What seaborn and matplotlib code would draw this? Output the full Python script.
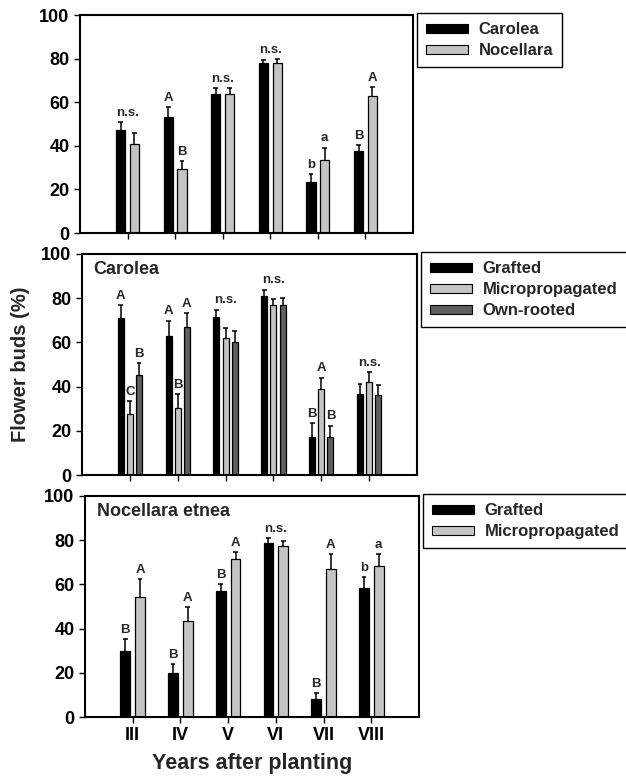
import matplotlib
matplotlib.use('Agg')
import matplotlib.pyplot as plt
import seaborn as sns
import pandas as pd
import numpy as np

# ---- data ----
years = ['III', 'IV', 'V', 'VI', 'VII', 'VIII']

# panel 1: cultivars
p1_groups = ['Carolea', 'Nocellara']
p1_carolea = [47.3, 53.4, 63.7, 77.9, 23.5, 37.7]
p1_carolea_se = [3.4, 4.2, 2.6, 1.5, 3.5, 2.5]
p1_nocellara = [40.9, 29.2, 63.8, 77.9, 33.4, 62.9]
p1_nocellara_se = [5.2, 3.9, 2.5, 1.8, 5.7, 4.0]
p1_carolea_lbl = ['', 'A', '', '', 'b', 'B']
p1_nocellara_lbl = ['', 'B', '', '', 'a', 'A']
p1_group_lbl = ['n.s.', '', 'n.s.', 'n.s.', '', '']

# panel 2: Carolea propagation
p2_groups = ['Grafted', 'Micropropagated', 'Own-rooted']
p2_grafted = [71.1, 62.9, 71.5, 81.1, 17.3, 36.7]
p2_grafted_se = [5.9, 6.9, 3.3, 2.7, 6.2, 4.5]
p2_micro = [27.7, 30.3, 61.8, 76.8, 38.8, 42.1]
p2_micro_se = [5.8, 6.2, 4.9, 2.7, 5.2, 4.5]
p2_own = [45.2, 67.1, 60.0, 77.1, 17.0, 36.0]
p2_own_se = [5.4, 6.1, 5.0, 2.9, 5.3, 4.6]
p2_grafted_lbl = ['A', 'A', '', '', 'B', '']
p2_micro_lbl = ['C', 'B', '', '', 'A', '']
p2_own_lbl = ['B', 'A', '', '', 'B', '']
p2_group_lbl = ['', '', 'n.s.', 'n.s.', '', 'n.s.']

# panel 3: Nocellara etnea propagation
p3_groups = ['Grafted', 'Micropropagated']
p3_grafted = [29.9, 20.1, 57.2, 78.7, 8.3, 58.5]
p3_grafted_se = [5.2, 3.9, 3.0, 2.3, 2.6, 4.8]
p3_micro = [54.1, 43.6, 71.6, 77.4, 66.8, 68.5]
p3_micro_se = [8.3, 6.0, 3.1, 2.4, 7.0, 5.3]
p3_grafted_lbl = ['B', 'B', 'B', '', 'B', 'b']
p3_micro_lbl = ['A', 'A', 'A', '', 'A', 'a']
p3_group_lbl = ['', '', '', 'n.s.', '', '']

sns.set_style('ticks')
plt.rcParams['font.family'] = ['Liberation Sans', 'DejaVu Sans']

BLACK, LIGHT, DARK = '#000000', '#c4c4c4', '#5e5e5e'


def long_df(groups, values):
    rows = []
    for g, vals in zip(groups, values):
        for y, v in zip(years, vals):
            rows.append({'year': y, 'group': g, 'value': v})
    return pd.DataFrame(rows)


def draw_panel(ax, groups, values, ses, labels, group_lbl, colors, width, title=None):
    df = long_df(groups, values)
    sns.barplot(data=df, x='year', y='value', hue='group', order=years,
                hue_order=groups, palette=colors, width=width, gap=0.34,
                edgecolor='black', linewidth=0.9, errorbar=None, ax=ax,
                saturation=1)
    tops = np.zeros(len(years))
    for cont, se, lbl in zip(ax.containers, ses, labels):
        for i, bar in enumerate(cont.patches):
            xc = bar.get_x() + bar.get_width() / 2
            h = bar.get_height()
            top = h + se[i]
            ax.vlines(xc, h, top, color='black', lw=1.1, zorder=1)
            ax.hlines(top, xc - 0.05, xc + 0.05, color='black', lw=1.1, zorder=1)
            tops[i] = max(tops[i], top)
            if lbl[i]:
                ax.text(xc, top + 1.5, lbl[i], ha='center', va='bottom',
                        fontsize=9.5, fontweight='bold')
    for i, t in enumerate(group_lbl):
        if t:
            ax.text(i, tops[i] + 1.5, t, ha='center', va='bottom',
                    fontsize=9.5, fontweight='bold')
    ax.set_xlim(-1, 6)
    ax.set_ylim(0, 100)
    ax.set_yticks([0, 20, 40, 60, 80, 100])
    ax.set_xlabel('')
    ax.set_ylabel('')
    for s in ax.spines.values():
        s.set_visible(True)
        s.set_linewidth(1.5)
        s.set_color('black')
    ax.tick_params(direction='out', length=4, width=1, labelsize=13, colors='black')
    for t in ax.get_yticklabels() + ax.get_xticklabels():
        t.set_fontweight('bold')
    if title:
        ax.text(0.035, 0.97, title, transform=ax.transAxes, ha='left', va='top',
                fontsize=13, fontweight='bold')
    leg = ax.legend(loc='upper left', bbox_to_anchor=(1.012, 1.008),
                    prop={'size': 12, 'weight': 'bold'},
                    frameon=True, fancybox=False, framealpha=1, edgecolor='black',
                    handlelength=2.5, handleheight=0.45, labelspacing=0.35,
                    borderpad=0.55, handletextpad=0.65, borderaxespad=0)
    leg.get_frame().set_linewidth(1.0)
    for h in leg.legend_handles:
        h.set_edgecolor('black')
        h.set_linewidth(0.8)


fig = plt.figure(figsize=(6.26, 7.78), dpi=100, facecolor='white')
W, H = 626.0, 778.0
ax1 = fig.add_axes([80 / W, 1 - 233 / H, 333 / W, 218 / H])
ax2 = fig.add_axes([82 / W, 1 - 475 / H, 335 / W, 221 / H])
ax3 = fig.add_axes([85 / W, 1 - 717 / H, 334 / W, 221 / H])

draw_panel(ax1, p1_groups, [p1_carolea, p1_nocellara],
           [p1_carolea_se, p1_nocellara_se],
           [p1_carolea_lbl, p1_nocellara_lbl], p1_group_lbl,
           [BLACK, LIGHT], 0.58)
draw_panel(ax2, p2_groups, [p2_grafted, p2_micro, p2_own],
           [p2_grafted_se, p2_micro_se, p2_own_se],
           [p2_grafted_lbl, p2_micro_lbl, p2_own_lbl], p2_group_lbl,
           [BLACK, LIGHT, DARK], 0.57, title='Carolea')
draw_panel(ax3, p3_groups, [p3_grafted, p3_micro],
           [p3_grafted_se, p3_micro_se],
           [p3_grafted_lbl, p3_micro_lbl], p3_group_lbl,
           [BLACK, LIGHT], 0.62, title='Nocellara etnea')

ax1.set_xticklabels([])
ax2.set_xticklabels([])
ax2.set_ylabel('Flower buds (%)', fontsize=14.5, fontweight='bold', labelpad=8)
ax3.set_xlabel('Years after planting', fontsize=15.5, fontweight='bold', labelpad=6)

fig.savefig('out.png', dpi=100)
